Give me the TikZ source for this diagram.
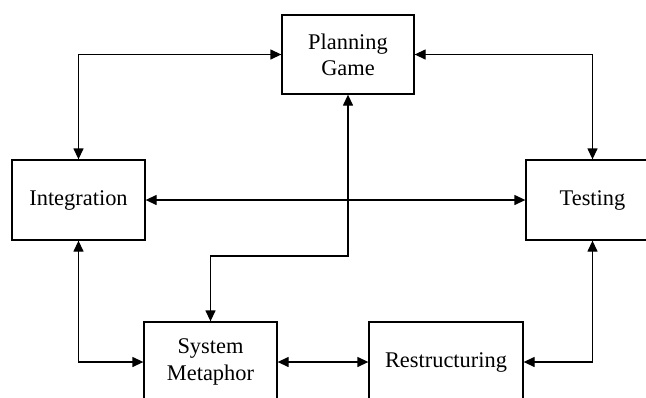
\documentclass[tikz,border=0pt]{standalone}
\usepackage{fontspec}
\setmainfont{Liberation Serif}
\usetikzlibrary{arrows.meta}

\tikzset{
  block/.style={draw, line width=1.3pt, rectangle, align=center,
    inner sep=0pt, minimum height=80pt,
    font=\fontsize{22.4}{26.3}\selectfont},
  link/.style={line width=1.3pt, {Triangle[length=11pt,width=10pt]}-{Triangle[length=11pt,width=10pt]}}
}

\begin{document}
\begin{tikzpicture}[x=1pt, y=-1pt]
  \useasboundingbox (0,0) rectangle (646,397);
  \clip (0,0) rectangle (646,397);

  % activity boxes
  \node[block, minimum width=132pt, minimum height=79pt] (plan) at (348,54.5) {Planning\\Game};
  \node[block, minimum width=133pt] (integ) at (78.5,200) {Integration};
  \node[block, minimum width=133pt] (test)  at (592.5,200) {Testing};
  \node[block, minimum width=133pt] (sm)    at (210.5,362) {System\\Metaphor};
  \node[block, minimum width=154pt] (rest)  at (446,362) {Restructuring};

  % bend point of the link between Planning Game and System Metaphor
  \coordinate (jog) at (348,256);

  % two-way links
  \draw[link] (integ.north) |- (plan.west);
  \draw[link] (plan.east) -| (test.north);
  \draw[link] (integ.east) -- (test.west);
  \draw[link] (plan.south) -- (jog) -| (sm.north);
  \draw[link] (integ.south) |- (sm.west);
  \draw[link] (sm.east) -- (rest.west);
  \draw[link] (test.south) |- (rest.east);
\end{tikzpicture}
\end{document}
